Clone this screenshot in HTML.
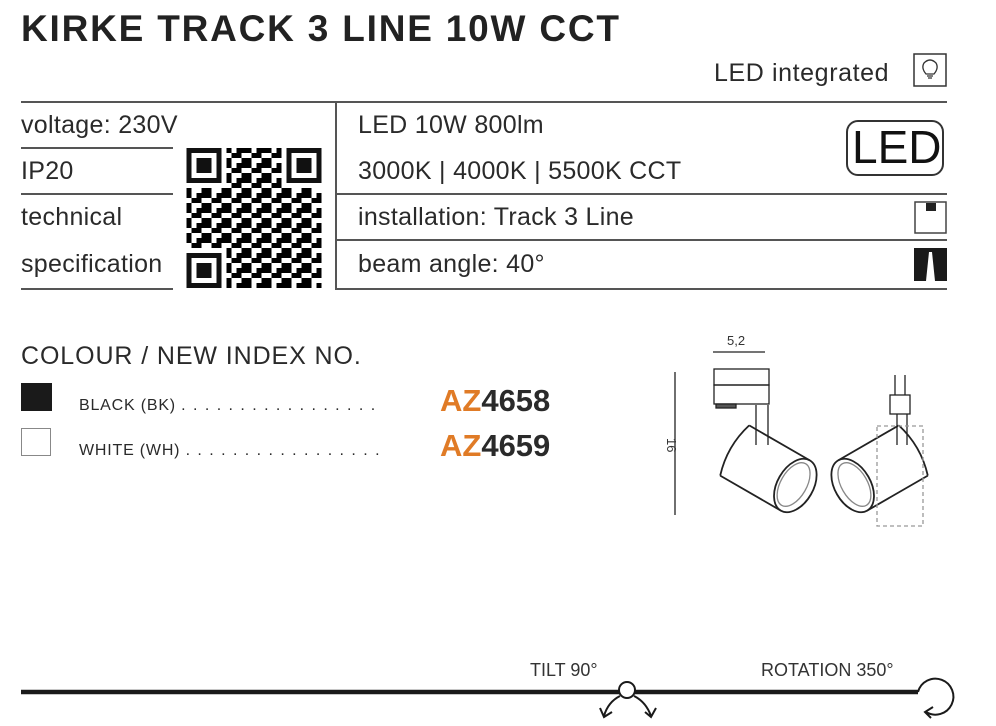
<!DOCTYPE html>
<html><head><meta charset="utf-8"><style>
body{margin:0;width:996px;height:726px;background:#fff;position:relative;font-family:"Liberation Sans",sans-serif;color:#2a2a2a;overflow:hidden}
.t{position:absolute;white-space:nowrap}
.l{position:absolute;background:#555;height:2px}
</style></head><body>
<div class="t" style="left:21px;top:8px;font-size:37px;font-weight:bold;letter-spacing:1.8px;color:#222">KIRKE TRACK 3 LINE 10W CCT</div>
<div class="t" style="left:714px;top:59px;font-size:25px;letter-spacing:.6px">LED integrated</div>
<svg style="position:absolute;left:912px;top:52px" width="36" height="36"><rect x="2" y="2" width="32" height="32" fill="none" stroke="#333" stroke-width="1.5"/><path d="M14 22 Q9 16 12 11 Q18 5 24 11 Q27 16 22 22 Z M15 24 h6 M16 26 h4" fill="none" stroke="#333" stroke-width="1.3"/></svg>
<div class="l" style="left:21px;top:101px;width:926px"></div>
<div class="l" style="left:21px;top:147px;width:152px"></div>
<div class="l" style="left:21px;top:193px;width:152px"></div>
<div class="l" style="left:21px;top:288px;width:152px"></div>
<div style="position:absolute;left:335px;top:101px;width:2px;height:189px;background:#555"></div>
<div class="l" style="left:335px;top:193px;width:612px"></div>
<div class="l" style="left:335px;top:239px;width:612px"></div>
<div class="l" style="left:335px;top:288px;width:612px"></div>
<div class="t" style="left:21px;top:111px;font-size:25px;letter-spacing:.3px">voltage: 230V</div>
<div class="t" style="left:21px;top:157px;font-size:25px;letter-spacing:.3px">IP20</div>
<div class="t" style="left:21px;top:203px;font-size:25px;letter-spacing:.3px">technical</div>
<div class="t" style="left:21px;top:250px;font-size:25px;letter-spacing:.3px">specification</div>
<div class="t" style="left:358px;top:111px;font-size:25px;letter-spacing:.3px">LED 10W 800lm</div>
<div class="t" style="left:358px;top:157px;font-size:25px;letter-spacing:.3px">3000K | 4000K | 5500K CCT</div>
<div class="t" style="left:358px;top:203px;font-size:25px;letter-spacing:.3px">installation: Track 3 Line</div>
<div class="t" style="left:358px;top:250px;font-size:25px;letter-spacing:.3px">beam angle: 40°</div>
<div style="position:absolute;left:846px;top:120px;width:98px;height:56px;border:2px solid #333;border-radius:12px;box-sizing:border-box"></div>
<div class="t" style="left:852px;top:120px;font-size:46px;color:#111">LED</div>
<svg style="position:absolute;left:914px;top:201px" width="34" height="34"><rect x="1" y="1" width="31" height="31" fill="none" stroke="#444" stroke-width="1.5"/><rect x="12" y="2" width="10" height="8" fill="#222"/></svg>
<svg style="position:absolute;left:914px;top:248px" width="34" height="34"><rect x="0" y="0" width="33" height="33" fill="#1a1a1a"/><polygon points="15,4 18,4 21,33 12,33" fill="#fff"/></svg>
<svg style="position:absolute;left:186px;top:148px" width="136" height="140" viewBox="0 0 27 28">
<defs><pattern id="q" width="4" height="3" patternUnits="userSpaceOnUse"><rect x="0" y="0" width="1" height="1"/><rect x="2" y="0" width="2" height="1"/><rect x="1" y="1" width="2" height="1"/><rect x="0" y="2" width="1" height="1"/><rect x="3" y="2" width="1" height="1"/></pattern></defs>
<rect x="0" y="0" width="27" height="28" fill="url(#q)"/>
<g><rect x="0" y="0" width="8" height="8" fill="#fff"/><rect x="0" y="0" width="7" height="7" fill="#111"/><rect x="1" y="1" width="5" height="5" fill="#fff"/><rect x="2" y="2" width="3" height="3" fill="#111"/>
<rect x="19" y="0" width="8" height="8" fill="#fff"/><rect x="20" y="0" width="7" height="7" fill="#111"/><rect x="21" y="1" width="5" height="5" fill="#fff"/><rect x="22" y="2" width="3" height="3" fill="#111"/>
<rect x="0" y="20" width="8" height="8" fill="#fff"/><rect x="0" y="21" width="7" height="7" fill="#111"/><rect x="1" y="22" width="5" height="5" fill="#fff"/><rect x="2" y="23" width="3" height="3" fill="#111"/></g>
</svg>
<div class="t" style="left:21px;top:342px;font-size:25px;letter-spacing:.9px">COLOUR / NEW INDEX NO.</div>
<div style="position:absolute;left:21px;top:383px;width:31px;height:28px;background:#1a1a1a"></div>
<div style="position:absolute;left:21px;top:428px;width:30px;height:28px;border:1px solid #888;box-sizing:border-box"></div>
<div class="t" style="left:79px;top:397px;font-size:16px;letter-spacing:.8px">BLACK (BK) <span style="letter-spacing:7.4px">.................</span></div>
<div class="t" style="left:79px;top:442px;font-size:16px;letter-spacing:.8px">WHITE (WH) <span style="letter-spacing:7.4px">.................</span></div>
<div class="t" style="left:440px;top:383px;font-size:31px;font-weight:bold"><span style="color:#e07b26">AZ</span>4658</div>
<div class="t" style="left:440px;top:428px;font-size:31px;font-weight:bold"><span style="color:#e07b26">AZ</span>4659</div>
<svg style="position:absolute;left:0;top:0" width="996" height="726" fill="none" stroke="#222" stroke-width="1.3">
<text x="727" y="345" font-size="13" fill="#333" stroke="none" font-family="Liberation Sans">5,2</text>
<path d="M713 352 H765"/><path d="M675 372 V515"/>
<text x="655" y="440" font-size="13" fill="#333" stroke="none" font-family="Liberation Sans" transform="rotate(90 662 445)">16</text>
<rect x="714" y="369" width="55" height="16"/><rect x="714" y="385" width="55" height="19"/><rect x="716" y="404" width="20" height="4" fill="#555"/>
<path d="M756 405 V445 M768 405 V445"/>
<g transform="translate(765 468) rotate(30)"><path d="M-35 -29 H35 M-35 29 H35 M-35 -29 Q-44 0 -35 29" stroke-width="1.8"/><ellipse cx="35" cy="0" rx="18" ry="29" stroke-width="1.8"/><ellipse cx="33" cy="0" rx="13" ry="24" stroke="#888"/></g>
<rect x="890" y="395" width="20" height="19"/><path d="M895 375 V395 M905 375 V395 M897 414 V445 M907 414 V445"/>
<g transform="translate(883 468) rotate(-30)"><path d="M-35 -29 H35 M-35 29 H35 M35 -29 Q44 0 35 29" stroke-width="1.8"/><ellipse cx="-35" cy="0" rx="18" ry="29" stroke-width="1.8"/><ellipse cx="-33" cy="0" rx="13" ry="24" stroke="#888"/></g>
<rect x="877" y="426" width="46" height="100" stroke="#999" stroke-dasharray="4 3"/>
</svg>
<div class="t" style="left:530px;top:660px;font-size:18px;color:#333">TILT 90°</div>
<div class="t" style="left:761px;top:660px;font-size:18px;color:#333">ROTATION 350°</div>
<svg style="position:absolute;left:0;top:660px" width="996" height="66" fill="none" stroke="#1a1a1a">
<path d="M21 32 H918" stroke-width="4.5"/>
<circle cx="627" cy="30" r="8" fill="#fff" stroke-width="2"/>
<path d="M620 36 Q608 42 604 56 M600 48 L604 57 L612 52 M634 36 Q646 42 651 56 M645 52 L651 57 L656 48" stroke-width="2"/>
<path d="M918 32 A18 18 0 1 1 926 52 M933 47 L925 52 L931 58" stroke-width="2"/>
</svg>
</body></html>
